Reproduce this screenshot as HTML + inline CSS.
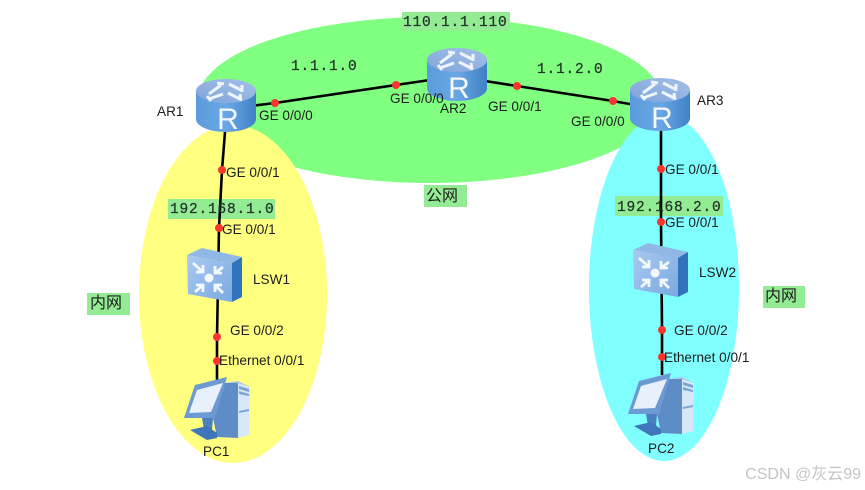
<!DOCTYPE html>
<html><head><meta charset="utf-8"><style>
html,body{margin:0;padding:0;background:#fff}
svg{display:block}
text{font-family:"Liberation Sans","Noto Sans CJK SC",sans-serif;font-size:13.6px;fill:#1c1c1c}
.m{font-family:"Liberation Mono",monospace;font-size:14.5px;fill:#23332a;letter-spacing:.8px;stroke:#23332a;stroke-width:.25px}
.g{fill:#93ec93}
</style></head><body>
<svg width="865" height="490" viewBox="0 0 865 490" xmlns="http://www.w3.org/2000/svg">
<defs>
<linearGradient id="rs" x1="0" x2="1" y1="0" y2="0"><stop offset="0" stop-color="#5a9bdc"/><stop offset=".5" stop-color="#6aa8e4"/><stop offset="1" stop-color="#3f80c6"/></linearGradient>
<linearGradient id="rt" x1="0" x2="1" y1="1" y2="0"><stop offset="0" stop-color="#7fa4da"/><stop offset="1" stop-color="#a4c0e8"/></linearGradient>
<linearGradient id="sw" x1="0" x2="1" y1="0" y2="1"><stop offset="0" stop-color="#a9caf0"/><stop offset="1" stop-color="#7aa9e2"/></linearGradient>
<g id="router">
<path d="M-30,-14 V14 C-30,22 -15,27 0,27 C15,27 30,22 30,14 V-14 Z" fill="url(#rs)"/>
<ellipse cx="0" cy="-14" rx="30" ry="12" fill="url(#rt)"/>
<g fill="none" stroke="#eef5fd" stroke-width="3">
<path d="M-17,-11 L-5,-20 M-9,-22 L-2,-21 M-17,-6 L-3,-11 M-19,-9 L-15,-4 M3,-21 L15,-15 M16,-20 L16,-13 M2,-12 L14,-6 M14,-11 L15,-4"/>
</g>
<text x="2" y="24" text-anchor="middle" style="font-size:30px;fill:#f4f8fd">R</text>
</g>
<g id="switch">
<path d="M-29,-21 L-14,-28 L26,-19 L16,-13 Z" fill="#8fb8e6"/>
<path d="M16,-13 L26,-19 L26,21 L16,26 Z" fill="#3273bd"/>
<path d="M-29,-21 L16,-13 L16,26 L-28,18 Z" fill="url(#sw)"/>
<circle cx="-7" cy="2" r="4.5" fill="#f4f8fd"/>
<g stroke="#f4f8fd" stroke-width="2.8" fill="none">
<path d="M-23,-13 L-13,-4 M-13,-11 V-4 H-20"/>
<path d="M7,-9 L-1,-3 M-1,-10 V-3 H6"/>
<path d="M-21,16 L-13,9 M-20,9 H-13 V16"/>
<path d="M7,17 L-1,9 M6,9 H-1 V16"/>
</g>
</g>
<g id="pc">
<path d="M9,-27 L22,-27 L22,28 L1,27 L-3,8 Z" fill="#5d8cc6"/>
<path d="M22,-27 L34,-23 L33,25 L22,28 Z" fill="#d8e7f7"/>
<path d="M9,-27 L22,-29 L34,-23 L22,-27 Z" fill="#a9c5e8"/>
<path d="M23,-24 L33,-21 V-18 L23,-21Z M23,-19 L33,-16 V-14 L23,-16Z M23,1 L33,-1 V1 L23,3Z" fill="#7ca3d3"/>
<path d="M-21,-25 L11,-33 L-1,8 L-32,8 Z" fill="#6d9ad2"/>
<path d="M-19,-20 L7,-27 L-5,2 L-27,3 Z" fill="#e8f1fb"/>
<path d="M-14,8 L-3,8 L-4,20 L-12,20 Z" fill="#4a7fc0"/>
<path d="M-26,20 L-9,16 L1,23 L1,28 L-9,30 Z" fill="#3f76bb"/>
</g>
</defs>
<rect width="865" height="490" fill="#fff"/>
<ellipse cx="430" cy="100" rx="232" ry="83" fill="#80ff80"/>
<ellipse cx="233" cy="294" rx="94" ry="169" fill="#ffff80"/>
<ellipse cx="664" cy="288" rx="75" ry="173" fill="#80ffff"/>

<rect x="402" y="12" width="108" height="19" class="g"/>
<rect x="168" y="199" width="107" height="20" class="g"/>
<rect x="615" y="196" width="108" height="20" class="g"/>
<rect x="87" y="293" width="43" height="22" class="g"/>
<rect x="763" y="286" width="42" height="22" class="g"/>
<rect x="424" y="185" width="43" height="22" class="g"/>

<g fill="none" stroke="#000" stroke-width="2.6">
<polyline points="250,106 275,103 396,85 430,80"/>
<polyline points="485,81 517,86 613,101 635,105"/>
<polyline points="225,132 222,170 219,228 217,337 217,380"/>
<polyline points="661,130 661,222 662,330 662,375"/>
</g>

<g fill="#f8352f">
<circle cx="275" cy="103" r="4"/><circle cx="396" cy="85" r="4"/><circle cx="517" cy="86" r="4"/><circle cx="613" cy="101" r="4"/>
<circle cx="222" cy="170" r="4"/><circle cx="219" cy="228" r="4"/><circle cx="217" cy="337" r="4"/><circle cx="217" cy="361" r="4"/>
<circle cx="661" cy="169" r="4"/><circle cx="661" cy="222" r="4"/><circle cx="662" cy="330" r="4"/><circle cx="662" cy="357" r="4"/>
</g>

<use href="#router" x="226" y="105"/>
<use href="#router" x="457" y="74"/>
<use href="#router" x="660" y="104"/>
<use href="#switch" x="216" y="276"/>
<use href="#switch" x="662" y="271"/>
<use href="#pc" x="216" y="410"/>
<use href="#pc" x="660" y="406"/>

<text class="m" x="403" y="26">110.1.1.110</text>
<text class="m" x="291" y="70">1.1.1.0</text>
<text class="m" x="537" y="73">1.1.2.0</text>
<text class="m" x="170" y="213">192.168.1.0</text>
<text class="m" x="617" y="211">192.168.2.0</text>

<text x="157" y="116">AR1</text>
<text x="440" y="113">AR2</text>
<text x="697" y="105">AR3</text>
<text x="259" y="120">GE 0/0/0</text>
<text x="390" y="103">GE 0/0/0</text>
<text x="488" y="111">GE 0/0/1</text>
<text x="571" y="126">GE 0/0/0</text>
<text x="226" y="177">GE 0/0/1</text>
<text x="222" y="234">GE 0/0/1</text>
<text x="665" y="174">GE 0/0/1</text>
<text x="665" y="227">GE 0/0/1</text>
<text x="230" y="335">GE 0/0/2</text>
<text x="674" y="335">GE 0/0/2</text>
<text x="219" y="365">Ethernet 0/0/1</text>
<text x="664" y="362">Ethernet 0/0/1</text>
<text x="253" y="284">LSW1</text>
<text x="699" y="277">LSW2</text>
<text x="203" y="456">PC1</text>
<text x="648" y="453">PC2</text>
<text x="426" y="201" style="font-size:16px">公网</text>
<text x="90" y="308" style="font-size:16px">内网</text>
<text x="765" y="301" style="font-size:16px">内网</text>
<text x="861" y="479" text-anchor="end" style="font-size:16px;fill:#c4c4c4">CSDN @灰云99</text>
</svg>
</body></html>
